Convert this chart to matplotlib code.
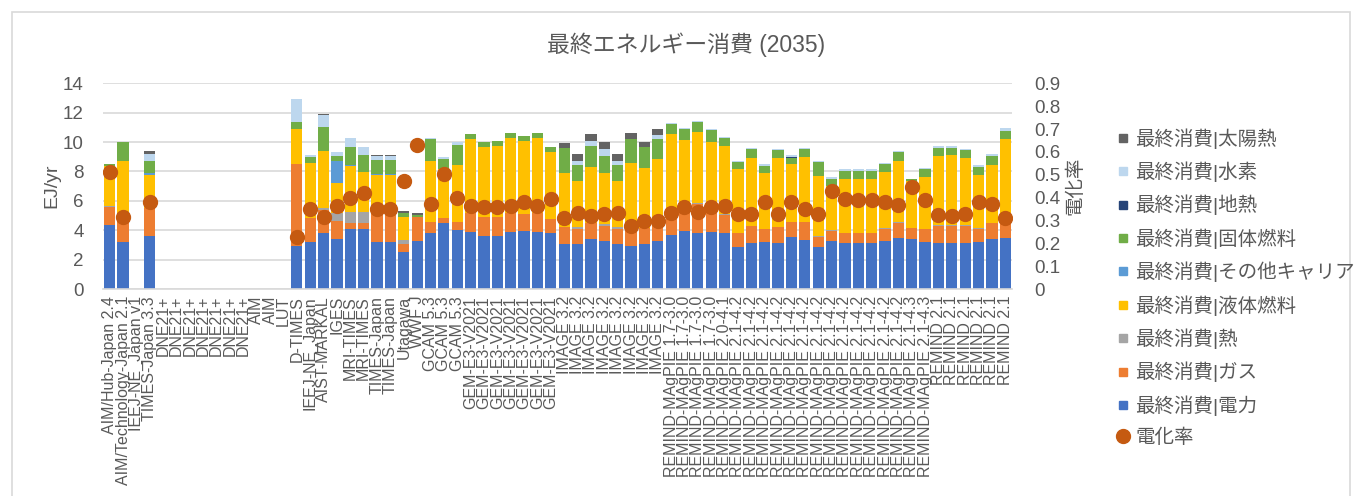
import numpy as np
import matplotlib
matplotlib.use("Agg")
import matplotlib.pyplot as plt
from matplotlib.lines import Line2D
from matplotlib.patches import Rectangle

plt.rcParams['font.family'] = ['Liberation Sans', 'Noto Sans CJK JP', 'DejaVu Sans']

# model / scenario labels
labels = (["AIM/Hub-Japan 2.4", "AIM/Technology-Japan 2.1", "IEEJ-NE_Japan v1", "TIMES-Japan 3.3"]
          + ["DNE21+"] * 7
          + ["AIM", "AIM", "LUT", "D-TIMES", "IEEJ-NE_Japan", "AIST-MARKAL", "IGES",
             "MRI-TIMES", "MRI-TIMES", "TIMES-Japan", "TIMES-Japan", "Utagawa", "WWF J"]
          + ["GCAM 5.3"] * 3
          + ["GEM-E3-V2021"] * 7
          + ["IMAGE 3.2"] * 8
          + ["REMIND-MAgPIE 1.7-3.0"] * 4
          + ["REMIND-MAgPIE 2.0-4.1"]
          + ["REMIND-MAgPIE 2.1-4.2"] * 13
          + ["REMIND-MAgPIE 2.1-4.3"] * 2
          + ["REMIND 2.1"] * 6)

E = [0] * 10  # empty scenarios (DNE21+, AIM, LUT)

# final energy by carrier (EJ/yr)
elec = [4.35, 3.22, 0, 3.60] + E + [2.95, 3.22, 3.79, 3.40, 4.06, 4.06, 3.17, 3.17, 2.52, 3.27,
        3.83, 4.51, 4.01, 3.90, 3.63, 3.63, 3.90, 3.95, 3.90, 3.79,
        3.06, 3.06, 3.40, 3.27, 3.06, 2.95, 3.06, 3.29,
        3.67, 3.95, 3.83, 3.90, 3.79,
        2.88, 3.15, 3.22, 3.11, 3.56, 3.33, 2.88, 3.29, 3.15, 3.15, 3.15, 3.29, 3.49,
        3.40, 3.22, 3.11, 3.11, 3.11, 3.22, 3.40, 3.49]
gas = [1.25, 1.98, 0, 1.89] + E + [5.55, 1.63, 1.58, 1.25, 0.45, 0.45, 2.13, 2.13, 0.54, 1.61,
       0.75, 0.34, 0.57, 1.25, 1.29, 1.29, 1.25, 1.13, 1.25, 0.97,
       1.18, 1.04, 1.11, 1.03, 1.00, 1.20, 1.11, 1.01,
       1.13, 1.31, 1.95, 1.47, 1.24,
       0.91, 1.16, 0.84, 1.09, 0.98, 1.21, 0.68, 0.68, 0.68, 0.68, 0.68, 0.79, 1.02,
       0.77, 0.86, 1.20, 1.20, 1.20, 0.86, 1.07, 1.21]
heat = [0.05, 0, 0, 0] + E + [0, 0, 0.16, 0.50, 0.73, 0.73, 0, 0, 0.27, 0,
        0, 0, 0, 0, 0, 0, 0, 0, 0, 0,
        0, 0.14, 0, 0.10, 0.14, 0, 0, 0,
        0, 0.04, 0.05, 0, 0.05,
        0.05, 0, 0.04, 0.05, 0.04, 0, 0.05, 0.05, 0, 0, 0, 0.05, 0.05,
        0, 0, 0.05, 0.05, 0.05, 0.05, 0, 0]
liquid = [2.72, 3.53, 0, 2.26] + E + [2.38, 3.75, 3.86, 2.04, 3.13, 2.74, 2.46, 2.46, 1.59, 0,
          4.15, 3.35, 3.86, 5.05, 4.76, 4.83, 5.15, 4.99, 5.15, 4.58,
          3.63, 3.13, 3.81, 3.51, 3.17, 4.44, 4.04, 4.52,
          5.74, 4.84, 4.83, 4.65, 4.67,
          4.30, 4.62, 3.77, 4.68, 3.92, 4.46, 4.08, 2.98, 3.68, 3.68, 3.68, 3.81, 4.15,
          3.18, 3.56, 4.69, 4.76, 4.57, 3.60, 3.97, 5.48]
other = [0, 0, 0, 0.15] + E + [0, 0, 0, 1.51, 0.08, 0, 0.09, 0.09, 0, 0] + [0] * 44
solid = [0.13, 1.27, 0, 0.80] + E + [0.48, 0.36, 1.61, 0.35, 1.23, 1.11, 0.93, 0.93, 0.23, 0.15,
         1.45, 0.64, 1.36, 0.32, 0.32, 0.30, 0.29, 0.34, 0.29, 0.30,
         1.70, 1.07, 1.43, 1.16, 1.07, 1.63, 1.43, 1.36,
         0.66, 0.76, 0.68, 0.80, 0.55,
         0.52, 0.59, 0.50, 0.53, 0.42, 0.52, 0.97, 0.46, 0.54, 0.49, 0.52, 0.56, 0.59,
         0.13, 0.50, 0.56, 0.49, 0.53, 0.59, 0.61, 0.59]
geo = [0] * 51 + [0.08, 0, 0, 0, 0, 0.06] + [0] * 11
hydrogen = [0, 0, 0, 0.48] + E + [1.59, 0.13, 0.81, 0.29, 0.62, 0.55, 0.27, 0.27, 0, 0,
            0.09, 0.12, 0.18, 0, 0, 0, 0, 0, 0, 0,
            0, 0.29, 0.34, 0.45, 0.29, 0, 0, 0.30,
            0.07, 0.07, 0.09, 0.08, 0.07,
            0.08, 0.08, 0.11, 0.07, 0.15, 0.08, 0.08, 0.14, 0.09, 0.08, 0.11, 0.09, 0.09,
            0, 0.07, 0.09, 0.09, 0.09, 0.09, 0.13, 0.16]
solar = [0, 0, 0, 0.19] + E + [0, 0, 0.12, 0, 0, 0, 0.07, 0.07, 0.16, 0.16,
         0, 0, 0, 0, 0, 0, 0, 0, 0, 0,
         0.38, 0.43, 0.43, 0.48, 0.45, 0.37, 0.38, 0.40] + [0] * 26

# electrification rate (right axis)
nan = np.nan
elec_rate = [0.51, 0.316, nan, 0.381] + [nan] * 10 + [
    0.228, 0.352, 0.313, 0.363, 0.396, 0.421, 0.348, 0.348, 0.472, 0.63,
    0.371, 0.505, 0.399, 0.364, 0.36, 0.36, 0.364, 0.379, 0.364, 0.392,
    0.309, 0.333, 0.319, 0.326, 0.333, 0.277, 0.298, 0.298,
    0.331, 0.357, 0.338, 0.357, 0.363,
    0.326, 0.327, 0.379, 0.326, 0.381, 0.35, 0.327, 0.428, 0.392, 0.389, 0.389, 0.379, 0.367,
    0.447, 0.389, 0.323, 0.319, 0.326, 0.379, 0.374, 0.311]

series = [
    ("最終消費|電力", elec, "#4472C4"),
    ("最終消費|ガス", gas, "#ED7D31"),
    ("最終消費|熱", heat, "#A5A5A5"),
    ("最終消費|液体燃料", liquid, "#FFC000"),
    ("最終消費|その他キャリア", other, "#5B9BD5"),
    ("最終消費|固体燃料", solid, "#70AD47"),
    ("最終消費|地熱", geo, "#264478"),
    ("最終消費|水素", hydrogen, "#BDD7EE"),
    ("最終消費|太陽熱", solar, "#636363"),
]

txt = "#595959"
grid = "#D9D9D9"

fig = plt.figure(figsize=(13.56, 4.96), dpi=100)
ax = fig.add_axes([103 / 1356, 1 - 289 / 496, 909 / 1356, 205.7 / 496])

x = np.arange(len(labels))
bottom = np.zeros(len(labels))
handles = []
for name, vals, color in series:
    vals = np.array(vals, dtype=float)
    ax.bar(x, vals, 0.84, bottom=bottom, color=color, zorder=2)
    bottom += vals
    handles.append(Line2D([], [], ls='none', marker='s', markersize=5.5, color=color, label=name))

ax.set_xlim(-0.5, len(labels) - 0.5)
ax.set_ylim(0, 14)
ax.set_yticks(range(0, 15, 2))
ax.grid(axis='y', color=grid, lw=1.2, zorder=0)
ax.set_axisbelow(True)
for s in ['left', 'right', 'top']:
    ax.spines[s].set_visible(False)
ax.spines['bottom'].set_color(grid)
ax.spines['bottom'].set_linewidth(1.2)
ax.set_xticks(x)
ax.set_xticklabels(labels, rotation=90, fontsize=11.5, color=txt)
ax.tick_params(axis='x', length=0, pad=5)
ax.tick_params(axis='y', length=0, pad=14, labelsize=13.5, colors=txt)
ax.set_ylabel("EJ/yr", fontsize=14, color=txt, labelpad=2)

ax2 = ax.twinx()
ax2.plot(x, elec_rate, ls='none', marker='o', markersize=10, color="#C55A11", zorder=5)
ax2.set_ylim(0, 0.9)
ax2.set_yticks(np.arange(0, 0.91, 0.1))
ax2.set_yticklabels(["0"] + [f"{v:.1f}" for v in np.arange(0.1, 0.91, 0.1)])
for s in ['left', 'right', 'top', 'bottom']:
    ax2.spines[s].set_visible(False)
ax2.tick_params(axis='y', length=0, pad=16, labelsize=13.5, colors=txt)
ax2.set_ylabel("電化率", fontsize=14, color=txt, labelpad=4)

handles = handles[::-1]
handles.append(Line2D([], [], ls='none', marker='o', markersize=10, color="#C55A11", label="電化率"))
leg = fig.legend(handles=handles, loc='upper left', bbox_to_anchor=(1117 / 1356, 1 - 128 / 496),
                 frameon=False, fontsize=14, handlelength=0.6, handletextpad=0.35,
                 labelspacing=0.66, borderpad=0, borderaxespad=0)
for t in leg.get_texts():
    t.set_color(txt)

fig.text(686 / 1356, 1 - 45 / 496, "最終エネルギー消費 (2035)", ha='center', va='center',
         fontsize=16.5, color=txt)

fig.patches.append(Rectangle((12 / 1356, -0.1), 1338 / 1356, 1.1 - 12 / 496, transform=fig.transFigure,
                             fill=False, edgecolor=grid, lw=1.2))

fig.savefig("out.png", dpi=100)
